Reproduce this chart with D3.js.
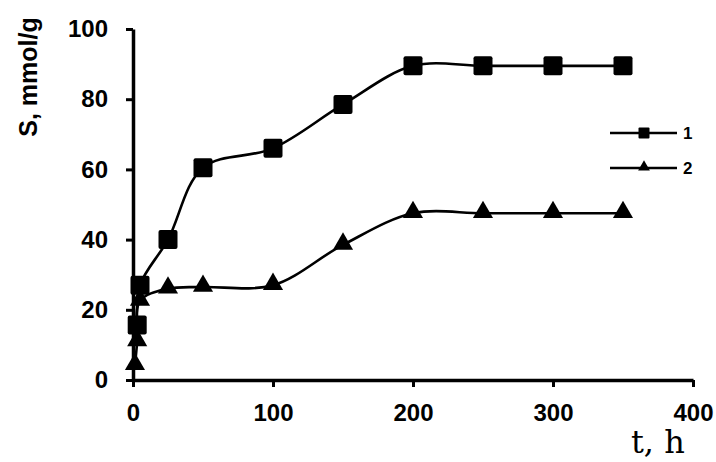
<!DOCTYPE html>
<html>
<head>
<meta charset="utf-8">
<script src="https://cdn.jsdelivr.net/npm/d3@7"></script>
<style>
  html, body { margin: 0; padding: 0; background: #fff; }
  svg { display: block; }
</style>
</head>
<body>
<svg id="chart" width="716" height="462"></svg>
<script>
// ---- data ----
const series1Time = [3, 5, 25, 50, 100, 150, 200, 250, 300, 350];
const series1Values = [15.7, 27, 40, 60.5, 66, 78.5, 89.5, 89.5, 89.5, 89.5];
const series2Time = [1.4, 3, 5, 25, 50, 100, 150, 200, 250, 300, 350];
const series2Values = [4.2, 11, 22.5, 26, 26.5, 27, 38.5, 47.5, 47.5, 47.5, 47.5];
const xTicks = [0, 100, 200, 300, 400];
const yTicks = [0, 20, 40, 60, 80, 100];
const seriesNames = ["1", "2"];
const xTitle = "t, h";
const yTitle = "S, mmol/g";

// ---- drawing ----
const svg = d3.select("#chart");
const x = d3.scaleLinear().domain([0, 400]).range([133, 693]);
const y = d3.scaleLinear().domain([0, 100]).range([380, 29]);

const fontTick = "'Liberation Sans', Arial, sans-serif";

// axes
const xAxis = d3.axisBottom(x).tickValues(xTicks).tickSize(7).tickSizeOuter(0).tickPadding(17);
const yAxis = d3.axisLeft(y).tickValues(yTicks).tickSize(7).tickSizeOuter(0).tickPadding(18);

const gx = svg.append("g").attr("transform", `translate(0,${y(0)})`).call(xAxis);
const gy = svg.append("g").attr("transform", `translate(${x(0)},0)`).call(yAxis);

[gx, gy].forEach(g => {
  g.select(".domain").attr("stroke", "#000").attr("stroke-width", 3.5);
  g.selectAll(".tick line").attr("stroke", "#000").attr("stroke-width", 3);
  g.selectAll(".tick text")
    .attr("fill", "#000")
    .style("font-family", fontTick)
    .style("font-weight", "bold")
    .style("font-size", "24px");
});

// axis titles
svg.append("text")
  .attr("transform", `translate(37,77) rotate(-90)`)
  .attr("text-anchor", "middle")
  .style("font-family", fontTick)
  .style("font-weight", "bold")
  .style("font-size", "25px")
  .text(yTitle);

svg.append("text")
  .attr("x", 631)
  .attr("y", 453)
  .style("font-family", "'DejaVu Serif', serif")
  .style("font-size", "32px")
  .attr("fill", "#000")
  .text(xTitle);

// lines
const line = d3.line()
  .x(d => x(d[0]))
  .y(d => y(d[1]))
  .curve(d3.curveCatmullRom.alpha(0.5));

const s1 = series1Time.map((t, i) => [t, series1Values[i]]);
const s2 = series2Time.map((t, i) => [t, series2Values[i]]);

svg.append("path").datum(s2).attr("d", line)
  .attr("fill", "none").attr("stroke", "#000").attr("stroke-width", 2.6);
svg.append("path").datum(s1).attr("d", line)
  .attr("fill", "none").attr("stroke", "#000").attr("stroke-width", 2.6);

const tri = d3.symbol().type(d3.symbolTriangle).size(175);

svg.append("g").selectAll("path").data(s2).join("path")
  .attr("d", tri)
  .attr("transform", d => `translate(${x(d[0])},${y(d[1]) - 1})`)
  .attr("fill", "#000");

svg.append("g").selectAll("rect").data(s1).join("rect")
  .attr("x", d => x(d[0]) - 9.5)
  .attr("y", d => y(d[1]) - 9.5)
  .attr("width", 19).attr("height", 19).attr("rx", 2)
  .attr("fill", "#000");

// legend
const legendY = [133, 168];
const legend = svg.append("g");
seriesNames.forEach((name, i) => {
  const g = legend.append("g").attr("transform", `translate(0,${legendY[i]})`);
  g.append("line").attr("x1", 610).attr("x2", 677).attr("y1", 0).attr("y2", 0)
    .attr("stroke", "#000").attr("stroke-width", 2.6);
  if (i === 0) {
    g.append("rect").attr("x", 638.5).attr("y", -5.5).attr("width", 11).attr("height", 11)
      .attr("rx", 1).attr("fill", "#000");
  } else {
    g.append("path").attr("d", d3.symbol().type(d3.symbolTriangle).size(60))
      .attr("transform", "translate(644,-1)").attr("fill", "#000");
  }
  g.append("text").attr("x", 683).attr("y", 6)
    .style("font-family", fontTick).style("font-weight", "bold").style("font-size", "17px")
    .text(name);
});
</script>
</body>
</html>
